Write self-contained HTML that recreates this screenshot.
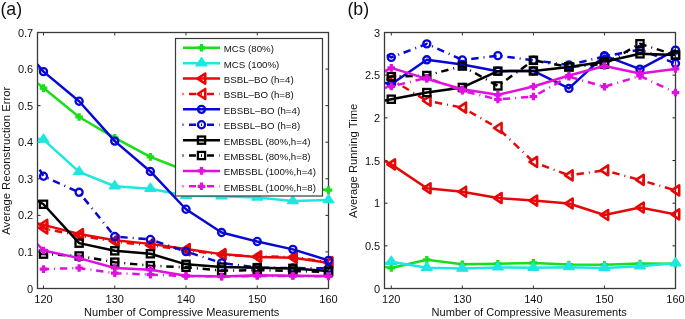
<!DOCTYPE html>
<html><head><meta charset="utf-8"><style>
html,body{margin:0;padding:0;background:#fff;}
body{width:685px;height:319px;overflow:hidden;}
svg{display:block;will-change:transform;}
.t{font-family:"Liberation Sans",sans-serif;font-size:11px;fill:#111;}
.lg{font-family:"Liberation Sans",sans-serif;font-size:9.1px;fill:#111;}
.pl{font-family:"Liberation Sans",sans-serif;font-size:17.8px;fill:#111;}
</style></head><body>
<svg width="685" height="319" viewBox="0 0 685 319">
<rect width="685" height="319" fill="#fff"/>
<path d="M43.50 288.5V285.5M43.50 32.5V35.5" stroke="#333" stroke-width="1"/>
<path d="M114.75 288.5V285.5M114.75 32.5V35.5" stroke="#333" stroke-width="1"/>
<path d="M186.00 288.5V285.5M186.00 32.5V35.5" stroke="#333" stroke-width="1"/>
<path d="M257.25 288.5V285.5M257.25 32.5V35.5" stroke="#333" stroke-width="1"/>
<path d="M328.50 288.5V285.5M328.50 32.5V35.5" stroke="#333" stroke-width="1"/>
<path d="M37.5 288.50H40.5M328.5 288.50H325.5" stroke="#222" stroke-width="1"/>
<path d="M37.5 251.93H40.5M328.5 251.93H325.5" stroke="#222" stroke-width="1"/>
<path d="M37.5 215.36H40.5M328.5 215.36H325.5" stroke="#222" stroke-width="1"/>
<path d="M37.5 178.79H40.5M328.5 178.79H325.5" stroke="#222" stroke-width="1"/>
<path d="M37.5 142.21H40.5M328.5 142.21H325.5" stroke="#222" stroke-width="1"/>
<path d="M37.5 105.64H40.5M328.5 105.64H325.5" stroke="#222" stroke-width="1"/>
<path d="M37.5 69.07H40.5M328.5 69.07H325.5" stroke="#222" stroke-width="1"/>
<path d="M37.5 32.50H40.5M328.5 32.50H325.5" stroke="#222" stroke-width="1"/>
<rect x="37.5" y="32.5" width="291.0" height="256.0" fill="none" stroke="#3a3a3a" stroke-width="1.3"/>
<text x="43.50" y="302.7" text-anchor="middle" class="t">120</text>
<text x="114.75" y="302.7" text-anchor="middle" class="t">130</text>
<text x="186.00" y="302.7" text-anchor="middle" class="t">140</text>
<text x="257.25" y="302.7" text-anchor="middle" class="t">150</text>
<text x="328.50" y="302.7" text-anchor="middle" class="t">160</text>
<text x="33.20" y="292.50" text-anchor="end" class="t">0</text>
<text x="33.20" y="255.93" text-anchor="end" class="t">0.1</text>
<text x="33.20" y="219.36" text-anchor="end" class="t">0.2</text>
<text x="33.20" y="182.79" text-anchor="end" class="t">0.3</text>
<text x="33.20" y="146.21" text-anchor="end" class="t">0.4</text>
<text x="33.20" y="109.64" text-anchor="end" class="t">0.5</text>
<text x="33.20" y="73.07" text-anchor="end" class="t">0.6</text>
<text x="33.20" y="36.50" text-anchor="end" class="t">0.7</text>
<clipPath id="cl"><rect x="38.1" y="33.1" width="289.8" height="254.8"/></clipPath>
<path clip-path="url(#cl)" d="M37.00 82.79 L43.50 88.09 L79.12 116.98 L114.75 137.83 L150.38 156.84 L186.00 170.74 L221.62 178.79 L257.25 183.17 L292.88 187.56 L328.50 190.12" stroke="#1ade1a" stroke-width="2.5" fill="none" stroke-linejoin="round"/>
<path d="M39.70 88.09H47.30M43.50 84.29V91.89" stroke="#1ade1a" stroke-width="3.2" fill="none"/>
<path d="M75.33 116.98H82.92M79.12 113.18V120.78" stroke="#1ade1a" stroke-width="3.2" fill="none"/>
<path d="M110.95 137.83H118.55M114.75 134.03V141.63" stroke="#1ade1a" stroke-width="3.2" fill="none"/>
<path d="M146.57 156.84H154.18M150.38 153.04V160.64" stroke="#1ade1a" stroke-width="3.2" fill="none"/>
<path d="M182.20 170.74H189.80M186.00 166.94V174.54" stroke="#1ade1a" stroke-width="3.2" fill="none"/>
<path d="M217.82 178.79H225.43M221.62 174.99V182.59" stroke="#1ade1a" stroke-width="3.2" fill="none"/>
<path d="M253.45 183.17H261.05M257.25 179.37V186.97" stroke="#1ade1a" stroke-width="3.2" fill="none"/>
<path d="M289.07 187.56H296.68M292.88 183.76V191.36" stroke="#1ade1a" stroke-width="3.2" fill="none"/>
<path d="M324.70 190.12H332.30M328.50 186.32V193.92" stroke="#1ade1a" stroke-width="3.2" fill="none"/>
<path clip-path="url(#cl)" d="M37.00 138.56 L43.50 139.65 L79.12 171.84 L114.75 186.28 L150.38 188.77 L186.00 195.79 L221.62 196.34 L257.25 197.44 L292.88 201.09 L328.50 200.11" stroke="#1ee6e0" stroke-width="2.5" fill="none" stroke-linejoin="round"/>
<path d="M43.50 134.05L49.00 142.25L38.00 142.25Z" stroke="#1ee6e0" stroke-width="1.2" stroke-linejoin="round" fill="#1ee6e0"/>
<path d="M79.12 166.24L84.62 174.44L73.62 174.44Z" stroke="#1ee6e0" stroke-width="1.2" stroke-linejoin="round" fill="#1ee6e0"/>
<path d="M114.75 180.68L120.25 188.88L109.25 188.88Z" stroke="#1ee6e0" stroke-width="1.2" stroke-linejoin="round" fill="#1ee6e0"/>
<path d="M150.38 183.17L155.88 191.37L144.88 191.37Z" stroke="#1ee6e0" stroke-width="1.2" stroke-linejoin="round" fill="#1ee6e0"/>
<path d="M186.00 190.19L191.50 198.39L180.50 198.39Z" stroke="#1ee6e0" stroke-width="1.2" stroke-linejoin="round" fill="#1ee6e0"/>
<path d="M221.62 190.74L227.12 198.94L216.12 198.94Z" stroke="#1ee6e0" stroke-width="1.2" stroke-linejoin="round" fill="#1ee6e0"/>
<path d="M257.25 191.84L262.75 200.04L251.75 200.04Z" stroke="#1ee6e0" stroke-width="1.2" stroke-linejoin="round" fill="#1ee6e0"/>
<path d="M292.88 195.49L298.38 203.69L287.38 203.69Z" stroke="#1ee6e0" stroke-width="1.2" stroke-linejoin="round" fill="#1ee6e0"/>
<path d="M328.50 194.51L334.00 202.71L323.00 202.71Z" stroke="#1ee6e0" stroke-width="1.2" stroke-linejoin="round" fill="#1ee6e0"/>
<path clip-path="url(#cl)" d="M37.00 223.40 L43.50 224.87 L79.12 234.01 L114.75 240.23 L150.38 243.88 L186.00 249.00 L221.62 254.12 L257.25 257.05 L292.88 257.78 L328.50 262.90" stroke="#e60808" stroke-width="2.5" fill="none" stroke-linejoin="round"/>
<path d="M39.60 224.87L47.20 219.87L47.20 229.87Z" stroke="#e60808" stroke-width="2.6" stroke-linejoin="round" fill="none"/>
<path d="M75.22 234.01L82.83 229.01L82.83 239.01Z" stroke="#e60808" stroke-width="2.6" stroke-linejoin="round" fill="none"/>
<path d="M110.85 240.23L118.45 235.23L118.45 245.23Z" stroke="#e60808" stroke-width="2.6" stroke-linejoin="round" fill="none"/>
<path d="M146.47 243.88L154.07 238.88L154.07 248.88Z" stroke="#e60808" stroke-width="2.6" stroke-linejoin="round" fill="none"/>
<path d="M182.10 249.00L189.70 244.00L189.70 254.00Z" stroke="#e60808" stroke-width="2.6" stroke-linejoin="round" fill="none"/>
<path d="M217.72 254.12L225.32 249.12L225.32 259.12Z" stroke="#e60808" stroke-width="2.6" stroke-linejoin="round" fill="none"/>
<path d="M253.35 257.05L260.95 252.05L260.95 262.05Z" stroke="#e60808" stroke-width="2.6" stroke-linejoin="round" fill="none"/>
<path d="M288.98 257.78L296.57 252.78L296.57 262.78Z" stroke="#e60808" stroke-width="2.6" stroke-linejoin="round" fill="none"/>
<path d="M324.60 262.90L332.20 257.90L332.20 267.90Z" stroke="#e60808" stroke-width="2.6" stroke-linejoin="round" fill="none"/>
<path clip-path="url(#cl)" d="M37.00 227.43 L43.50 228.52 L79.12 235.47 L114.75 241.69 L150.38 245.35 L186.00 250.10 L221.62 254.85 L257.25 256.32 L292.88 257.05 L328.50 262.17" stroke="#e60808" stroke-width="2.5" fill="none" stroke-linejoin="round" stroke-dasharray="7.4 5 1 4.8" stroke-dashoffset="0.00"/>
<path d="M39.60 228.52L47.20 223.52L47.20 233.52Z" stroke="#e60808" stroke-width="2.6" stroke-linejoin="round" fill="none"/>
<path d="M75.22 235.47L82.83 230.47L82.83 240.47Z" stroke="#e60808" stroke-width="2.6" stroke-linejoin="round" fill="none"/>
<path d="M110.85 241.69L118.45 236.69L118.45 246.69Z" stroke="#e60808" stroke-width="2.6" stroke-linejoin="round" fill="none"/>
<path d="M146.47 245.35L154.07 240.35L154.07 250.35Z" stroke="#e60808" stroke-width="2.6" stroke-linejoin="round" fill="none"/>
<path d="M182.10 250.10L189.70 245.10L189.70 255.10Z" stroke="#e60808" stroke-width="2.6" stroke-linejoin="round" fill="none"/>
<path d="M217.72 254.85L225.32 249.85L225.32 259.85Z" stroke="#e60808" stroke-width="2.6" stroke-linejoin="round" fill="none"/>
<path d="M253.35 256.32L260.95 251.32L260.95 261.32Z" stroke="#e60808" stroke-width="2.6" stroke-linejoin="round" fill="none"/>
<path d="M288.98 257.05L296.57 252.05L296.57 262.05Z" stroke="#e60808" stroke-width="2.6" stroke-linejoin="round" fill="none"/>
<path d="M324.60 262.17L332.20 257.17L332.20 267.17Z" stroke="#e60808" stroke-width="2.6" stroke-linejoin="round" fill="none"/>
<path clip-path="url(#cl)" d="M37.00 64.10 L43.50 71.63 L79.12 101.25 L114.75 141.12 L150.38 171.47 L186.00 209.25 L221.62 232.55 L257.25 241.51 L292.88 249.37 L328.50 260.34" stroke="#0707d6" stroke-width="2.5" fill="none" stroke-linejoin="round"/>
<circle cx="43.50" cy="71.63" r="3.55" stroke="#0707d6" stroke-width="2.3" fill="none"/>
<circle cx="79.12" cy="101.25" r="3.55" stroke="#0707d6" stroke-width="2.3" fill="none"/>
<circle cx="114.75" cy="141.12" r="3.55" stroke="#0707d6" stroke-width="2.3" fill="none"/>
<circle cx="150.38" cy="171.47" r="3.55" stroke="#0707d6" stroke-width="2.3" fill="none"/>
<circle cx="186.00" cy="209.25" r="3.55" stroke="#0707d6" stroke-width="2.3" fill="none"/>
<circle cx="221.62" cy="232.55" r="3.55" stroke="#0707d6" stroke-width="2.3" fill="none"/>
<circle cx="257.25" cy="241.51" r="3.55" stroke="#0707d6" stroke-width="2.3" fill="none"/>
<circle cx="292.88" cy="249.37" r="3.55" stroke="#0707d6" stroke-width="2.3" fill="none"/>
<circle cx="328.50" cy="260.34" r="3.55" stroke="#0707d6" stroke-width="2.3" fill="none"/>
<path clip-path="url(#cl)" d="M37.00 164.89 L43.50 176.23 L79.12 192.32 L114.75 236.57 L150.38 239.49 L186.00 251.56 L221.62 262.90 L257.25 267.65 L292.88 268.02 L328.50 268.39" stroke="#0707d6" stroke-width="2.5" fill="none" stroke-linejoin="round" stroke-dasharray="7.4 5 1 4.8" stroke-dashoffset="12.87"/>
<circle cx="43.50" cy="176.23" r="3.55" stroke="#0707d6" stroke-width="2.3" fill="none"/>
<circle cx="79.12" cy="192.32" r="3.55" stroke="#0707d6" stroke-width="2.3" fill="none"/>
<circle cx="114.75" cy="236.57" r="3.55" stroke="#0707d6" stroke-width="2.3" fill="none"/>
<circle cx="150.38" cy="239.49" r="3.55" stroke="#0707d6" stroke-width="2.3" fill="none"/>
<circle cx="186.00" cy="251.56" r="3.55" stroke="#0707d6" stroke-width="2.3" fill="none"/>
<circle cx="221.62" cy="262.90" r="3.55" stroke="#0707d6" stroke-width="2.3" fill="none"/>
<circle cx="257.25" cy="267.65" r="3.55" stroke="#0707d6" stroke-width="2.3" fill="none"/>
<circle cx="292.88" cy="268.02" r="3.55" stroke="#0707d6" stroke-width="2.3" fill="none"/>
<circle cx="328.50" cy="268.39" r="3.55" stroke="#0707d6" stroke-width="2.3" fill="none"/>
<path clip-path="url(#cl)" d="M37.00 200.36 L43.50 204.28 L79.12 243.15 L114.75 250.83 L150.38 253.76 L186.00 264.36 L221.62 267.11 L257.25 267.65 L292.88 268.39 L328.50 271.13" stroke="#000000" stroke-width="2.5" fill="none" stroke-linejoin="round"/>
<rect x="39.90" y="200.68" width="7.2" height="7.2" stroke="#000000" stroke-width="2.3" fill="none"/>
<rect x="75.53" y="239.55" width="7.2" height="7.2" stroke="#000000" stroke-width="2.3" fill="none"/>
<rect x="111.15" y="247.23" width="7.2" height="7.2" stroke="#000000" stroke-width="2.3" fill="none"/>
<rect x="146.78" y="250.16" width="7.2" height="7.2" stroke="#000000" stroke-width="2.3" fill="none"/>
<rect x="182.40" y="260.76" width="7.2" height="7.2" stroke="#000000" stroke-width="2.3" fill="none"/>
<rect x="218.03" y="263.51" width="7.2" height="7.2" stroke="#000000" stroke-width="2.3" fill="none"/>
<rect x="253.65" y="264.05" width="7.2" height="7.2" stroke="#000000" stroke-width="2.3" fill="none"/>
<rect x="289.27" y="264.79" width="7.2" height="7.2" stroke="#000000" stroke-width="2.3" fill="none"/>
<rect x="324.90" y="267.53" width="7.2" height="7.2" stroke="#000000" stroke-width="2.3" fill="none"/>
<path clip-path="url(#cl)" d="M37.00 253.76 L43.50 254.12 L79.12 255.95 L114.75 262.17 L150.38 265.64 L186.00 267.29 L221.62 270.58 L257.25 270.21 L292.88 270.95 L328.50 272.04" stroke="#000000" stroke-width="2.5" fill="none" stroke-linejoin="round" stroke-dasharray="7.4 5 1 4.8" stroke-dashoffset="15.52"/>
<rect x="39.90" y="250.52" width="7.2" height="7.2" stroke="#000000" stroke-width="2.3" fill="none"/>
<rect x="75.53" y="252.35" width="7.2" height="7.2" stroke="#000000" stroke-width="2.3" fill="none"/>
<rect x="111.15" y="258.57" width="7.2" height="7.2" stroke="#000000" stroke-width="2.3" fill="none"/>
<rect x="146.78" y="262.04" width="7.2" height="7.2" stroke="#000000" stroke-width="2.3" fill="none"/>
<rect x="182.40" y="263.69" width="7.2" height="7.2" stroke="#000000" stroke-width="2.3" fill="none"/>
<rect x="218.03" y="266.98" width="7.2" height="7.2" stroke="#000000" stroke-width="2.3" fill="none"/>
<rect x="253.65" y="266.61" width="7.2" height="7.2" stroke="#000000" stroke-width="2.3" fill="none"/>
<rect x="289.27" y="267.35" width="7.2" height="7.2" stroke="#000000" stroke-width="2.3" fill="none"/>
<rect x="324.90" y="268.44" width="7.2" height="7.2" stroke="#000000" stroke-width="2.3" fill="none"/>
<path clip-path="url(#cl)" d="M37.00 243.70 L43.50 250.47 L79.12 258.15 L114.75 268.02 L150.38 269.85 L186.00 275.70 L221.62 276.61 L257.25 275.33 L292.88 275.70 L328.50 276.07" stroke="#e010e0" stroke-width="2.5" fill="none" stroke-linejoin="round"/>
<path d="M39.70 250.47H47.30M43.50 246.67V254.27" stroke="#e010e0" stroke-width="3.2" fill="none"/>
<path d="M75.33 258.15H82.92M79.12 254.35V261.95" stroke="#e010e0" stroke-width="3.2" fill="none"/>
<path d="M110.95 268.02H118.55M114.75 264.22V271.82" stroke="#e010e0" stroke-width="3.2" fill="none"/>
<path d="M146.57 269.85H154.18M150.38 266.05V273.65" stroke="#e010e0" stroke-width="3.2" fill="none"/>
<path d="M182.20 275.70H189.80M186.00 271.90V279.50" stroke="#e010e0" stroke-width="3.2" fill="none"/>
<path d="M217.82 276.61H225.43M221.62 272.81V280.41" stroke="#e010e0" stroke-width="3.2" fill="none"/>
<path d="M253.45 275.33H261.05M257.25 271.53V279.13" stroke="#e010e0" stroke-width="3.2" fill="none"/>
<path d="M289.07 275.70H296.68M292.88 271.90V279.50" stroke="#e010e0" stroke-width="3.2" fill="none"/>
<path d="M324.70 276.07H332.30M328.50 272.27V279.87" stroke="#e010e0" stroke-width="3.2" fill="none"/>
<path clip-path="url(#cl)" d="M37.00 269.48 L43.50 269.12 L79.12 268.02 L114.75 273.14 L150.38 274.60 L186.00 276.07 L221.62 276.43 L257.25 276.07 L292.88 276.07 L328.50 276.43" stroke="#e010e0" stroke-width="2.5" fill="none" stroke-linejoin="round" stroke-dasharray="7.4 5 1 4.8" stroke-dashoffset="13.48"/>
<path d="M39.70 269.12H47.30M43.50 265.32V272.92" stroke="#e010e0" stroke-width="3.2" fill="none"/>
<path d="M75.33 268.02H82.92M79.12 264.22V271.82" stroke="#e010e0" stroke-width="3.2" fill="none"/>
<path d="M110.95 273.14H118.55M114.75 269.34V276.94" stroke="#e010e0" stroke-width="3.2" fill="none"/>
<path d="M146.57 274.60H154.18M150.38 270.80V278.40" stroke="#e010e0" stroke-width="3.2" fill="none"/>
<path d="M182.20 276.07H189.80M186.00 272.27V279.87" stroke="#e010e0" stroke-width="3.2" fill="none"/>
<path d="M217.82 276.43H225.43M221.62 272.63V280.23" stroke="#e010e0" stroke-width="3.2" fill="none"/>
<path d="M253.45 276.07H261.05M257.25 272.27V279.87" stroke="#e010e0" stroke-width="3.2" fill="none"/>
<path d="M289.07 276.07H296.68M292.88 272.27V279.87" stroke="#e010e0" stroke-width="3.2" fill="none"/>
<path d="M324.70 276.43H332.30M328.50 272.63V280.23" stroke="#e010e0" stroke-width="3.2" fill="none"/>
<rect x="175.5" y="38.5" width="147.0" height="157.5" fill="#fff" stroke="#3a3a3a" stroke-width="1.2"/>
<path d="M183 47.80H220" stroke="#1ade1a" stroke-width="2.5"/>
<path d="M197.70 47.80H205.30M201.50 44.00V51.60" stroke="#1ade1a" stroke-width="3.2" fill="none"/>
<text transform="translate(223.7 52.30) scale(1.07 1)" class="lg">MCS (80%)</text>
<path d="M183 63.19H220" stroke="#1ee6e0" stroke-width="2.5"/>
<path d="M201.50 57.59L207.00 65.79L196.00 65.79Z" stroke="#1ee6e0" stroke-width="1.2" stroke-linejoin="round" fill="#1ee6e0"/>
<text transform="translate(223.7 67.69) scale(1.07 1)" class="lg">MCS (100%)</text>
<path d="M183 78.58H220" stroke="#e60808" stroke-width="2.5"/>
<path d="M197.60 78.58L205.20 73.58L205.20 83.58Z" stroke="#e60808" stroke-width="2.6" stroke-linejoin="round" fill="none"/>
<text transform="translate(223.7 83.08) scale(1.07 1)" class="lg">BSBL–BO (h=4)</text>
<path d="M182.5 93.97H220" stroke="#e60808" stroke-width="2.5" stroke-dasharray="1 5.5 7 5 1 5 7 5.5 1"/>
<path d="M197.60 93.97L205.20 88.97L205.20 98.97Z" stroke="#e60808" stroke-width="2.6" stroke-linejoin="round" fill="none"/>
<text transform="translate(223.7 98.47) scale(1.07 1)" class="lg">BSBL–BO (h=8)</text>
<path d="M183 109.36H220" stroke="#0707d6" stroke-width="2.5"/>
<circle cx="201.50" cy="109.36" r="3.55" stroke="#0707d6" stroke-width="2.3" fill="none"/>
<text transform="translate(223.7 113.86) scale(1.07 1)" class="lg">EBSBL–BO (h=4)</text>
<path d="M182.5 124.75H220" stroke="#0707d6" stroke-width="2.5" stroke-dasharray="1 5.5 7 5 1 5 7 5.5 1"/>
<circle cx="201.50" cy="124.75" r="3.55" stroke="#0707d6" stroke-width="2.3" fill="none"/>
<text transform="translate(223.7 129.25) scale(1.07 1)" class="lg">EBSBL–BO (h=8)</text>
<path d="M183 140.14H220" stroke="#000000" stroke-width="2.5"/>
<rect x="197.90" y="136.54" width="7.2" height="7.2" stroke="#000000" stroke-width="2.3" fill="none"/>
<text transform="translate(223.7 144.64) scale(1.07 1)" class="lg">EMBSBL (80%,h=4)</text>
<path d="M182.5 155.53H220" stroke="#000000" stroke-width="2.5" stroke-dasharray="1 5.5 7 5 1 5 7 5.5 1"/>
<rect x="197.90" y="151.93" width="7.2" height="7.2" stroke="#000000" stroke-width="2.3" fill="none"/>
<text transform="translate(223.7 160.03) scale(1.07 1)" class="lg">EMBSBL (80%,h=8)</text>
<path d="M183 170.92H220" stroke="#e010e0" stroke-width="2.5"/>
<path d="M197.70 170.92H205.30M201.50 167.12V174.72" stroke="#e010e0" stroke-width="3.2" fill="none"/>
<text transform="translate(223.7 175.42) scale(1.07 1)" class="lg">EMBSBL (100%,h=4)</text>
<path d="M182.5 186.31H220" stroke="#e010e0" stroke-width="2.5" stroke-dasharray="1 5.5 7 5 1 5 7 5.5 1"/>
<path d="M197.70 186.31H205.30M201.50 182.51V190.11" stroke="#e010e0" stroke-width="3.2" fill="none"/>
<text transform="translate(223.7 190.81) scale(1.07 1)" class="lg">EMBSBL (100%,h=8)</text>
<path d="M391.30 288.5V285.5M391.30 32.5V35.5" stroke="#333" stroke-width="1"/>
<path d="M462.35 288.5V285.5M462.35 32.5V35.5" stroke="#333" stroke-width="1"/>
<path d="M533.40 288.5V285.5M533.40 32.5V35.5" stroke="#333" stroke-width="1"/>
<path d="M604.45 288.5V285.5M604.45 32.5V35.5" stroke="#333" stroke-width="1"/>
<path d="M675.50 288.5V285.5M675.50 32.5V35.5" stroke="#333" stroke-width="1"/>
<path d="M384.5 288.50H387.5M675.5 288.50H672.5" stroke="#222" stroke-width="1"/>
<path d="M384.5 245.83H387.5M675.5 245.83H672.5" stroke="#222" stroke-width="1"/>
<path d="M384.5 203.17H387.5M675.5 203.17H672.5" stroke="#222" stroke-width="1"/>
<path d="M384.5 160.50H387.5M675.5 160.50H672.5" stroke="#222" stroke-width="1"/>
<path d="M384.5 117.83H387.5M675.5 117.83H672.5" stroke="#222" stroke-width="1"/>
<path d="M384.5 75.17H387.5M675.5 75.17H672.5" stroke="#222" stroke-width="1"/>
<path d="M384.5 32.50H387.5M675.5 32.50H672.5" stroke="#222" stroke-width="1"/>
<rect x="384.5" y="32.5" width="291.0" height="256.0" fill="none" stroke="#3a3a3a" stroke-width="1.3"/>
<text x="391.30" y="302.7" text-anchor="middle" class="t">120</text>
<text x="462.35" y="302.7" text-anchor="middle" class="t">130</text>
<text x="533.40" y="302.7" text-anchor="middle" class="t">140</text>
<text x="604.45" y="302.7" text-anchor="middle" class="t">150</text>
<text x="675.50" y="302.7" text-anchor="middle" class="t">160</text>
<text x="380.20" y="292.50" text-anchor="end" class="t">0</text>
<text x="380.20" y="249.83" text-anchor="end" class="t">0.5</text>
<text x="380.20" y="207.17" text-anchor="end" class="t">1</text>
<text x="380.20" y="164.50" text-anchor="end" class="t">1.5</text>
<text x="380.20" y="121.83" text-anchor="end" class="t">2</text>
<text x="380.20" y="79.17" text-anchor="end" class="t">2.5</text>
<text x="380.20" y="36.50" text-anchor="end" class="t">3</text>
<clipPath id="cr"><rect x="385.1" y="33.1" width="289.8" height="254.8"/></clipPath>
<path clip-path="url(#cr)" d="M384.00 266.74 L391.30 268.02 L426.82 259.74 L462.35 264.27 L497.88 263.75 L533.40 262.90 L568.92 264.52 L604.45 264.86 L639.98 263.58 L675.50 263.75" stroke="#1ade1a" stroke-width="2.5" fill="none" stroke-linejoin="round"/>
<path d="M387.50 268.02H395.10M391.30 264.22V271.82" stroke="#1ade1a" stroke-width="3.2" fill="none"/>
<path d="M423.02 259.74H430.62M426.82 255.94V263.54" stroke="#1ade1a" stroke-width="3.2" fill="none"/>
<path d="M458.55 264.27H466.15M462.35 260.47V268.07" stroke="#1ade1a" stroke-width="3.2" fill="none"/>
<path d="M494.07 263.75H501.68M497.88 259.95V267.55" stroke="#1ade1a" stroke-width="3.2" fill="none"/>
<path d="M529.60 262.90H537.20M533.40 259.10V266.70" stroke="#1ade1a" stroke-width="3.2" fill="none"/>
<path d="M565.12 264.52H572.72M568.92 260.72V268.32" stroke="#1ade1a" stroke-width="3.2" fill="none"/>
<path d="M600.65 264.86H608.25M604.45 261.06V268.66" stroke="#1ade1a" stroke-width="3.2" fill="none"/>
<path d="M636.18 263.58H643.77M639.98 259.78V267.38" stroke="#1ade1a" stroke-width="3.2" fill="none"/>
<path d="M671.70 263.75H679.30M675.50 259.95V267.55" stroke="#1ade1a" stroke-width="3.2" fill="none"/>
<path clip-path="url(#cr)" d="M384.00 263.41 L391.30 261.79 L426.82 267.76 L462.35 268.53 L497.88 267.42 L533.40 267.76 L568.92 267.17 L604.45 268.02 L639.98 266.31 L675.50 263.20" stroke="#1ee6e0" stroke-width="2.5" fill="none" stroke-linejoin="round"/>
<path d="M391.30 256.19L396.80 264.39L385.80 264.39Z" stroke="#1ee6e0" stroke-width="1.2" stroke-linejoin="round" fill="#1ee6e0"/>
<path d="M426.82 262.16L432.32 270.36L421.32 270.36Z" stroke="#1ee6e0" stroke-width="1.2" stroke-linejoin="round" fill="#1ee6e0"/>
<path d="M462.35 262.93L467.85 271.13L456.85 271.13Z" stroke="#1ee6e0" stroke-width="1.2" stroke-linejoin="round" fill="#1ee6e0"/>
<path d="M497.88 261.82L503.38 270.02L492.38 270.02Z" stroke="#1ee6e0" stroke-width="1.2" stroke-linejoin="round" fill="#1ee6e0"/>
<path d="M533.40 262.16L538.90 270.36L527.90 270.36Z" stroke="#1ee6e0" stroke-width="1.2" stroke-linejoin="round" fill="#1ee6e0"/>
<path d="M568.92 261.57L574.42 269.77L563.42 269.77Z" stroke="#1ee6e0" stroke-width="1.2" stroke-linejoin="round" fill="#1ee6e0"/>
<path d="M604.45 262.42L609.95 270.62L598.95 270.62Z" stroke="#1ee6e0" stroke-width="1.2" stroke-linejoin="round" fill="#1ee6e0"/>
<path d="M639.98 260.71L645.48 268.91L634.48 268.91Z" stroke="#1ee6e0" stroke-width="1.2" stroke-linejoin="round" fill="#1ee6e0"/>
<path d="M675.50 257.60L681.00 265.80L670.00 265.80Z" stroke="#1ee6e0" stroke-width="1.2" stroke-linejoin="round" fill="#1ee6e0"/>
<path clip-path="url(#cr)" d="M384.00 160.50 L391.30 164.34 L426.82 188.32 L462.35 191.73 L497.88 198.05 L533.40 200.61 L568.92 203.51 L604.45 215.03 L639.98 207.52 L675.50 214.35" stroke="#e60808" stroke-width="2.5" fill="none" stroke-linejoin="round"/>
<path d="M387.40 164.34L395.00 159.34L395.00 169.34Z" stroke="#e60808" stroke-width="2.6" stroke-linejoin="round" fill="none"/>
<path d="M422.93 188.32L430.52 183.32L430.52 193.32Z" stroke="#e60808" stroke-width="2.6" stroke-linejoin="round" fill="none"/>
<path d="M458.45 191.73L466.05 186.73L466.05 196.73Z" stroke="#e60808" stroke-width="2.6" stroke-linejoin="round" fill="none"/>
<path d="M493.98 198.05L501.57 193.05L501.57 203.05Z" stroke="#e60808" stroke-width="2.6" stroke-linejoin="round" fill="none"/>
<path d="M529.50 200.61L537.10 195.61L537.10 205.61Z" stroke="#e60808" stroke-width="2.6" stroke-linejoin="round" fill="none"/>
<path d="M565.02 203.51L572.62 198.51L572.62 208.51Z" stroke="#e60808" stroke-width="2.6" stroke-linejoin="round" fill="none"/>
<path d="M600.55 215.03L608.15 210.03L608.15 220.03Z" stroke="#e60808" stroke-width="2.6" stroke-linejoin="round" fill="none"/>
<path d="M636.08 207.52L643.68 202.52L643.68 212.52Z" stroke="#e60808" stroke-width="2.6" stroke-linejoin="round" fill="none"/>
<path d="M671.60 214.35L679.20 209.35L679.20 219.35Z" stroke="#e60808" stroke-width="2.6" stroke-linejoin="round" fill="none"/>
<path clip-path="url(#cr)" d="M384.00 75.17 L391.30 79.43 L426.82 100.77 L462.35 107.59 L497.88 127.99 L533.40 161.95 L568.92 175.35 L604.45 170.31 L639.98 179.87 L675.50 190.45" stroke="#e60808" stroke-width="2.5" fill="none" stroke-linejoin="round" stroke-dasharray="7.4 5 1 4.8" stroke-dashoffset="14.76"/>
<path d="M387.40 79.43L395.00 74.43L395.00 84.43Z" stroke="#e60808" stroke-width="2.6" stroke-linejoin="round" fill="none"/>
<path d="M422.93 100.77L430.52 95.77L430.52 105.77Z" stroke="#e60808" stroke-width="2.6" stroke-linejoin="round" fill="none"/>
<path d="M458.45 107.59L466.05 102.59L466.05 112.59Z" stroke="#e60808" stroke-width="2.6" stroke-linejoin="round" fill="none"/>
<path d="M493.98 127.99L501.57 122.99L501.57 132.99Z" stroke="#e60808" stroke-width="2.6" stroke-linejoin="round" fill="none"/>
<path d="M529.50 161.95L537.10 156.95L537.10 166.95Z" stroke="#e60808" stroke-width="2.6" stroke-linejoin="round" fill="none"/>
<path d="M565.02 175.35L572.62 170.35L572.62 180.35Z" stroke="#e60808" stroke-width="2.6" stroke-linejoin="round" fill="none"/>
<path d="M600.55 170.31L608.15 165.31L608.15 175.31Z" stroke="#e60808" stroke-width="2.6" stroke-linejoin="round" fill="none"/>
<path d="M636.08 179.87L643.68 174.87L643.68 184.87Z" stroke="#e60808" stroke-width="2.6" stroke-linejoin="round" fill="none"/>
<path d="M671.60 190.45L679.20 185.45L679.20 195.45Z" stroke="#e60808" stroke-width="2.6" stroke-linejoin="round" fill="none"/>
<path clip-path="url(#cr)" d="M384.00 82.85 L391.30 84.30 L426.82 59.81 L462.35 64.50 L497.88 71.16 L533.40 70.99 L568.92 88.39 L604.45 55.63 L639.98 69.19 L675.50 50.08" stroke="#0707d6" stroke-width="2.5" fill="none" stroke-linejoin="round"/>
<circle cx="391.30" cy="84.30" r="3.55" stroke="#0707d6" stroke-width="2.3" fill="none"/>
<circle cx="426.82" cy="59.81" r="3.55" stroke="#0707d6" stroke-width="2.3" fill="none"/>
<circle cx="462.35" cy="64.50" r="3.55" stroke="#0707d6" stroke-width="2.3" fill="none"/>
<circle cx="497.88" cy="71.16" r="3.55" stroke="#0707d6" stroke-width="2.3" fill="none"/>
<circle cx="533.40" cy="70.99" r="3.55" stroke="#0707d6" stroke-width="2.3" fill="none"/>
<circle cx="568.92" cy="88.39" r="3.55" stroke="#0707d6" stroke-width="2.3" fill="none"/>
<circle cx="604.45" cy="55.63" r="3.55" stroke="#0707d6" stroke-width="2.3" fill="none"/>
<circle cx="639.98" cy="69.19" r="3.55" stroke="#0707d6" stroke-width="2.3" fill="none"/>
<circle cx="675.50" cy="50.08" r="3.55" stroke="#0707d6" stroke-width="2.3" fill="none"/>
<path clip-path="url(#cr)" d="M384.00 52.98 L391.30 57.42 L426.82 43.85 L462.35 59.98 L497.88 55.63 L533.40 60.32 L568.92 64.93 L604.45 56.39 L639.98 49.57 L675.50 63.48" stroke="#0707d6" stroke-width="2.5" fill="none" stroke-linejoin="round" stroke-dasharray="7.4 5 1 4.8" stroke-dashoffset="14.68"/>
<circle cx="391.30" cy="57.42" r="3.55" stroke="#0707d6" stroke-width="2.3" fill="none"/>
<circle cx="426.82" cy="43.85" r="3.55" stroke="#0707d6" stroke-width="2.3" fill="none"/>
<circle cx="462.35" cy="59.98" r="3.55" stroke="#0707d6" stroke-width="2.3" fill="none"/>
<circle cx="497.88" cy="55.63" r="3.55" stroke="#0707d6" stroke-width="2.3" fill="none"/>
<circle cx="533.40" cy="60.32" r="3.55" stroke="#0707d6" stroke-width="2.3" fill="none"/>
<circle cx="568.92" cy="64.93" r="3.55" stroke="#0707d6" stroke-width="2.3" fill="none"/>
<circle cx="604.45" cy="56.39" r="3.55" stroke="#0707d6" stroke-width="2.3" fill="none"/>
<circle cx="639.98" cy="49.57" r="3.55" stroke="#0707d6" stroke-width="2.3" fill="none"/>
<circle cx="675.50" cy="63.48" r="3.55" stroke="#0707d6" stroke-width="2.3" fill="none"/>
<path clip-path="url(#cr)" d="M384.00 100.77 L391.30 99.23 L426.82 92.57 L462.35 87.45 L497.88 71.16 L533.40 70.99 L568.92 66.89 L604.45 61.68 L639.98 53.83 L675.50 55.11" stroke="#000000" stroke-width="2.5" fill="none" stroke-linejoin="round"/>
<rect x="387.70" y="95.63" width="7.2" height="7.2" stroke="#000000" stroke-width="2.3" fill="none"/>
<rect x="423.22" y="88.97" width="7.2" height="7.2" stroke="#000000" stroke-width="2.3" fill="none"/>
<rect x="458.75" y="83.85" width="7.2" height="7.2" stroke="#000000" stroke-width="2.3" fill="none"/>
<rect x="494.27" y="67.56" width="7.2" height="7.2" stroke="#000000" stroke-width="2.3" fill="none"/>
<rect x="529.80" y="67.39" width="7.2" height="7.2" stroke="#000000" stroke-width="2.3" fill="none"/>
<rect x="565.32" y="63.29" width="7.2" height="7.2" stroke="#000000" stroke-width="2.3" fill="none"/>
<rect x="600.85" y="58.08" width="7.2" height="7.2" stroke="#000000" stroke-width="2.3" fill="none"/>
<rect x="636.38" y="50.23" width="7.2" height="7.2" stroke="#000000" stroke-width="2.3" fill="none"/>
<rect x="671.90" y="51.51" width="7.2" height="7.2" stroke="#000000" stroke-width="2.3" fill="none"/>
<path clip-path="url(#cr)" d="M384.00 76.87 L391.30 76.62 L426.82 75.51 L462.35 66.04 L497.88 85.92 L533.40 60.32 L568.92 66.89 L604.45 64.07 L639.98 43.76 L675.50 55.11" stroke="#000000" stroke-width="2.5" fill="none" stroke-linejoin="round" stroke-dasharray="7.4 5 1 4.8" stroke-dashoffset="14.99"/>
<rect x="387.70" y="73.02" width="7.2" height="7.2" stroke="#000000" stroke-width="2.3" fill="none"/>
<rect x="423.22" y="71.91" width="7.2" height="7.2" stroke="#000000" stroke-width="2.3" fill="none"/>
<rect x="458.75" y="62.44" width="7.2" height="7.2" stroke="#000000" stroke-width="2.3" fill="none"/>
<rect x="494.27" y="82.32" width="7.2" height="7.2" stroke="#000000" stroke-width="2.3" fill="none"/>
<rect x="529.80" y="56.72" width="7.2" height="7.2" stroke="#000000" stroke-width="2.3" fill="none"/>
<rect x="565.32" y="63.29" width="7.2" height="7.2" stroke="#000000" stroke-width="2.3" fill="none"/>
<rect x="600.85" y="60.47" width="7.2" height="7.2" stroke="#000000" stroke-width="2.3" fill="none"/>
<rect x="636.38" y="40.16" width="7.2" height="7.2" stroke="#000000" stroke-width="2.3" fill="none"/>
<rect x="671.90" y="51.51" width="7.2" height="7.2" stroke="#000000" stroke-width="2.3" fill="none"/>
<path clip-path="url(#cr)" d="M384.00 71.75 L391.30 67.83 L426.82 78.84 L462.35 89.25 L497.88 94.79 L533.40 86.52 L568.92 75.51 L604.45 66.04 L639.98 73.46 L675.50 68.85" stroke="#e010e0" stroke-width="2.5" fill="none" stroke-linejoin="round"/>
<path d="M387.50 67.83H395.10M391.30 64.03V71.63" stroke="#e010e0" stroke-width="3.2" fill="none"/>
<path d="M423.02 78.84H430.62M426.82 75.04V82.64" stroke="#e010e0" stroke-width="3.2" fill="none"/>
<path d="M458.55 89.25H466.15M462.35 85.45V93.05" stroke="#e010e0" stroke-width="3.2" fill="none"/>
<path d="M494.07 94.79H501.68M497.88 90.99V98.59" stroke="#e010e0" stroke-width="3.2" fill="none"/>
<path d="M529.60 86.52H537.20M533.40 82.72V90.32" stroke="#e010e0" stroke-width="3.2" fill="none"/>
<path d="M565.12 75.51H572.72M568.92 71.71V79.31" stroke="#e010e0" stroke-width="3.2" fill="none"/>
<path d="M600.65 66.04H608.25M604.45 62.24V69.84" stroke="#e010e0" stroke-width="3.2" fill="none"/>
<path d="M636.18 73.46H643.77M639.98 69.66V77.26" stroke="#e010e0" stroke-width="3.2" fill="none"/>
<path d="M671.70 68.85H679.30M675.50 65.05V72.65" stroke="#e010e0" stroke-width="3.2" fill="none"/>
<path clip-path="url(#cr)" d="M384.00 87.97 L391.30 86.52 L426.82 77.73 L462.35 90.78 L497.88 99.49 L533.40 96.50 L568.92 76.62 L604.45 86.69 L639.98 76.02 L675.50 92.57" stroke="#e010e0" stroke-width="2.5" fill="none" stroke-linejoin="round" stroke-dasharray="7.4 5 1 4.8" stroke-dashoffset="3.99"/>
<path d="M387.50 86.52H395.10M391.30 82.72V90.32" stroke="#e010e0" stroke-width="3.2" fill="none"/>
<path d="M423.02 77.73H430.62M426.82 73.93V81.53" stroke="#e010e0" stroke-width="3.2" fill="none"/>
<path d="M458.55 90.78H466.15M462.35 86.98V94.58" stroke="#e010e0" stroke-width="3.2" fill="none"/>
<path d="M494.07 99.49H501.68M497.88 95.69V103.29" stroke="#e010e0" stroke-width="3.2" fill="none"/>
<path d="M529.60 96.50H537.20M533.40 92.70V100.30" stroke="#e010e0" stroke-width="3.2" fill="none"/>
<path d="M565.12 76.62H572.72M568.92 72.82V80.42" stroke="#e010e0" stroke-width="3.2" fill="none"/>
<path d="M600.65 86.69H608.25M604.45 82.89V90.49" stroke="#e010e0" stroke-width="3.2" fill="none"/>
<path d="M636.18 76.02H643.77M639.98 72.22V79.82" stroke="#e010e0" stroke-width="3.2" fill="none"/>
<path d="M671.70 92.57H679.30M675.50 88.77V96.37" stroke="#e010e0" stroke-width="3.2" fill="none"/>
<text transform="translate(181.7 316.2) scale(1.005 0.95)" text-anchor="middle" class="t">Number of Compressive Measurements</text>
<text transform="translate(529.2 316.2) scale(1.005 0.95)" text-anchor="middle" class="t">Number of Compressive Measurements</text>
<text transform="translate(10,160.8) rotate(-90)" text-anchor="middle" class="t" style="font-size:11.25px">Average Reconstruction Error</text>
<text transform="translate(357,160.75) rotate(-90)" text-anchor="middle" class="t" style="font-size:11.25px">Average Running Time</text>
<text x="0.4" y="15.3" class="pl">(a)</text>
<text x="347.4" y="15.3" class="pl">(b)</text>
</svg>
</body></html>
